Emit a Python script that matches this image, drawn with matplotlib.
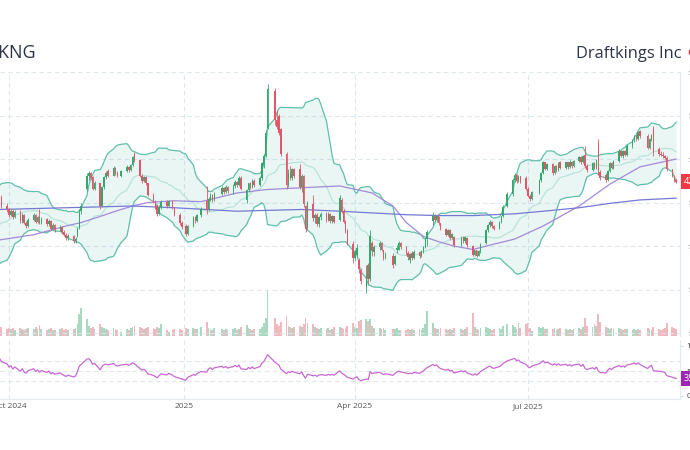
import matplotlib
matplotlib.use("Agg")
import matplotlib.pyplot as plt
import matplotlib.dates as mdates
import numpy as np
import pandas as pd

plt.rcParams['font.family'] = ['Open Sans', 'DejaVu Sans']

ticker = "DKNG"
company = "Draftkings Inc"

holidays = ['2024-09-02', '2024-11-28', '2024-12-25', '2025-01-01', '2025-01-09',
            '2025-01-20', '2025-02-17', '2025-04-18', '2025-05-26', '2025-06-19',
            '2025-07-04', '2025-09-01']

# closes before the visible window (only used to seed the indicators)
warmup_closes = [35.5, 35.6, 35.0, 34.8, 35.0, 34.7, 35.4, 35.8, 36.2, 36.6,
                 37.0, 37.6, 38.1, 38.7, 39.8, 40.2, 40.6, 41.2, 41.0]

opens = [
    41.0, 40.6,
    39.6, 39.2, 38.6, 39.0, 38.3,
    38.9, 37.9, 38.6, 37.6, 37.3,
    38.0, 38.6, 37.8, 38.3, 37.6,
    38.1, 37.5, 37.9, 37.0, 37.4,
    36.8, 37.2, 36.6, 36.3, 35.9,
    36.2, 35.6, 36.2, 37.0, 39.0,
    41.5, 43.1, 43.4, 42.9, 41.6,
    42.2, 39.6, 41.8, 42.9, 43.6,
    43.1, 44.0, 43.4, 43.0,
    43.6, 44.1, 43.7, 44.3, 45.6,
    44.9, 43.1, 42.5, 42.9, 42.2,
    40.9, 40.1, 39.6, 38.7, 39.5,
    40.1, 39.6, 40.2, 39.4,
    38.6, 37.6, 37.3, 36.4,
    37.3, 38.3, 37.9, 38.6,
    40.2, 39.2, 40.4, 40.9, 40.3,
    41.0, 41.7, 41.2, 41.8,
    41.3, 41.9, 42.4, 42.0, 42.8,
    40.3, 41.4, 42.2, 41.8, 42.5,
    42.0, 42.8, 44.3, 45.4, 48.6,
    52.8, 49.5, 49.9, 48.4,
    45.6, 42.0, 43.5, 42.8, 43.8,
    43.9, 41.8, 43.0, 39.6, 37.2,
    39.8, 38.2, 38.6, 37.5, 38.3,
    38.7, 38.0, 38.7, 37.9, 38.4,
    38.0, 40.3, 39.0, 37.8, 36.8,
    35.2, 33.6, 34.0, 33.4, 32.3,
    30.3, 32.8, 31.2, 35.3, 34.3,
    34.9, 35.4, 34.5, 33.6,
    33.9, 32.9, 34.5, 34.6, 35.4,
    34.9, 34.2, 33.4, 34.2, 33.6,
    34.3, 33.8, 34.4, 34.9, 35.8,
    37.9, 38.5, 38.0, 38.4, 37.6,
    37.0, 36.3, 36.8, 35.9, 36.0,
    35.1, 36.0, 35.6, 35.9,
    35.0, 34.0, 34.5, 33.9, 34.4,
    35.3, 36.8, 37.4, 37.8, 37.3,
    37.0, 37.8, 38.4, 39.6,
    41.0, 42.6, 43.2, 42.5, 43.0,
    42.8, 41.6, 40.8, 40.4,
    41.2, 42.6, 43.4, 44.6, 43.9,
    44.4, 43.4, 44.2, 43.7, 44.6,
    44.0, 44.6, 44.1, 44.7, 44.2,
    44.8, 45.2, 44.6, 45.5, 44.2,
    43.7, 44.5, 44.0, 46.6, 43.5,
    43.2, 42.6, 43.6, 44.5, 44.0,
    44.8, 45.9, 45.3, 45.9, 45.5,
    46.5, 47.2, 47.7, 47.3, 48.2,
    47.6, 46.3, 47.3, 48.4,
    46.1, 45.6, 45.5, 45.3, 45.1,
    43.8, 43.0, 42.6,
]

highs = [
    41.3, 40.9,
    39.9, 39.4, 39.3, 39.2, 39.1,
    39.1, 38.8, 38.7, 37.9, 38.2,
    38.8, 38.7, 38.5, 39.3, 38.3,
    38.2, 38.1, 38.0, 37.6, 37.5,
    37.4, 37.3, 36.8, 36.5, 36.4,
    36.3, 36.0, 37.2, 39.2, 40.0,
    43.4, 43.6, 43.5, 43.0, 42.5,
    42.3, 41.9, 43.0, 43.6, 43.8,
    44.2, 44.1, 43.6, 43.7,
    44.3, 44.2, 44.4, 45.4, 45.8,
    45.0, 43.3, 43.1, 43.0, 42.3,
    41.1, 40.3, 39.8, 39.7, 40.3,
    40.3, 40.3, 40.3, 39.5,
    38.8, 37.9, 37.5, 37.4,
    38.5, 38.5, 38.7, 39.5,
    41.9, 40.6, 41.1, 41.0, 41.2,
    41.9, 41.8, 42.0, 41.9,
    42.1, 42.6, 42.5, 43.0, 43.0,
    41.6, 42.3, 42.4, 42.7, 42.7,
    43.0, 44.7, 45.6, 48.3, 53.6,
    53.2, 50.6, 50.2, 48.6,
    45.8, 43.8, 44.2, 44.0, 44.0,
    44.4, 43.3, 43.2, 39.7, 40.2,
    40.9, 38.8, 38.8, 38.4, 38.9,
    38.9, 38.9, 38.8, 38.6, 38.5,
    40.9, 40.5, 39.2, 38.0, 37.0,
    35.6, 34.5, 35.2, 33.6, 32.5,
    32.8, 33.0, 36.8, 35.6, 35.1,
    35.6, 35.5, 34.6, 34.3,
    34.2, 34.0, 35.1, 35.6, 35.5,
    35.0, 34.4, 34.2, 34.4, 34.5,
    34.4, 34.6, 35.0, 35.9, 36.8,
    38.9, 38.7, 38.6, 38.5, 37.7,
    37.1, 37.0, 36.9, 36.5, 36.2,
    36.2, 36.2, 36.1, 36.0,
    35.1, 34.6, 34.6, 34.5, 35.4,
    36.9, 37.5, 38.0, 37.9, 37.4,
    37.9, 38.5, 39.7, 41.2,
    42.8, 43.4, 43.3, 43.2, 43.1,
    43.0, 41.8, 41.0, 41.3,
    42.7, 43.5, 44.8, 44.7, 44.5,
    44.5, 44.3, 44.3, 44.6, 44.8,
    44.7, 44.7, 44.9, 44.8, 44.9,
    45.3, 45.3, 45.5, 46.5, 44.4,
    44.6, 44.6, 45.0, 47.3, 43.7,
    43.4, 43.7, 44.6, 44.6, 44.9,
    46.1, 46.0, 46.0, 46.0, 46.7,
    47.3, 47.8, 47.9, 48.2, 48.3,
    47.9, 47.4, 47.9, 48.8,
    46.4, 45.9, 45.8, 45.5, 45.3,
    43.9, 43.2, 42.8,
]

lows = [
    39.8, 39.4,
    38.9, 38.3, 38.4, 38.1, 38.2,
    37.7, 37.7, 37.5, 37.1, 37.2,
    37.9, 37.6, 37.7, 37.5, 37.5,
    37.3, 37.3, 36.8, 36.9, 36.6,
    36.7, 36.4, 36.1, 35.7, 35.7,
    35.4, 35.3, 36.0, 36.9, 38.7,
    41.3, 42.6, 42.6, 41.4, 41.4,
    39.2, 39.5, 41.6, 42.7, 42.9,
    43.0, 43.2, 42.9, 42.9,
    43.5, 43.5, 43.6, 44.2, 44.7,
    42.9, 42.3, 42.4, 42.0, 40.7,
    39.9, 39.2, 38.5, 38.6, 39.3,
    39.4, 39.5, 39.2, 38.4,
    37.4, 37.0, 36.1, 36.3,
    37.2, 37.7, 37.8, 38.3,
    38.7, 39.0, 40.2, 40.1, 40.2,
    40.9, 41.0, 41.1, 41.1,
    41.0, 41.7, 41.8, 41.9, 41.4,
    40.0, 41.2, 41.6, 41.7, 41.8,
    41.9, 42.6, 44.0, 45.2, 48.4,
    48.9, 48.5, 47.8, 45.3,
    41.6, 41.8, 42.6, 42.6, 42.8,
    41.6, 41.2, 39.5, 36.6, 37.0,
    37.9, 37.6, 37.3, 37.2, 38.0,
    37.8, 37.9, 37.7, 37.7, 37.6,
    37.9, 38.8, 37.6, 36.5, 35.1,
    33.0, 33.3, 33.8, 31.9, 30.6,
    29.6, 30.6, 31.0, 33.9, 33.8,
    34.6, 34.4, 33.4, 33.5,
    32.5, 32.8, 34.2, 34.5, 34.7,
    34.0, 33.4, 33.0, 33.4, 33.5,
    33.6, 33.7, 34.2, 34.8, 35.0,
    37.4, 37.8, 37.8, 37.4, 36.8,
    36.1, 36.2, 35.7, 35.8, 34.9,
    35.0, 35.4, 35.4, 34.9,
    33.8, 33.9, 33.7, 33.8, 34.2,
    35.2, 36.6, 37.2, 37.1, 36.8,
    36.9, 37.6, 38.3, 39.5,
    40.8, 42.4, 42.3, 42.4, 42.2,
    41.4, 40.6, 40.2, 40.3,
    41.0, 42.4, 43.3, 43.7, 43.7,
    43.2, 43.3, 43.5, 43.6, 43.8,
    43.9, 43.9, 44.0, 44.0, 44.1,
    44.6, 44.4, 44.5, 44.0, 43.5,
    43.6, 43.8, 43.9, 43.2, 42.6,
    42.4, 42.5, 43.5, 43.8, 43.9,
    44.7, 45.2, 45.1, 45.3, 45.4,
    46.3, 47.0, 47.1, 47.2, 47.4,
    46.1, 46.2, 47.1, 45.4,
    45.4, 45.3, 45.1, 45.0, 43.6,
    42.9, 42.4, 42.2,
]

closes = [
    40.1, 39.6,
    39.2, 38.6, 39.0, 38.3, 38.9,
    37.9, 38.6, 37.6, 37.3, 38.0,
    38.6, 37.8, 38.3, 37.6, 38.1,
    37.5, 37.9, 37.0, 37.4, 36.8,
    37.2, 36.6, 36.3, 35.9, 36.2,
    35.6, 35.8, 36.9, 38.9, 39.6,
    43.1, 43.4, 42.8, 41.6, 42.3,
    39.6, 41.8, 42.9, 43.4, 43.1,
    44.0, 43.3, 43.0, 43.6,
    44.1, 43.7, 44.3, 45.2, 44.9,
    43.1, 42.5, 42.9, 42.2, 40.9,
    40.1, 39.4, 38.7, 39.5, 40.1,
    39.6, 40.2, 39.4, 38.6,
    37.6, 37.2, 36.4, 37.3,
    38.3, 37.9, 38.6, 39.3,
    39.1, 40.4, 40.9, 40.3, 41.0,
    41.7, 41.2, 41.8, 41.3,
    41.9, 42.4, 42.0, 42.8, 41.6,
    41.4, 42.2, 41.8, 42.5, 42.0,
    42.8, 44.5, 45.4, 48.0, 53.0,
    49.5, 48.7, 48.0, 45.6,
    42.0, 43.5, 42.8, 43.8, 43.0,
    41.8, 43.1, 39.8, 37.0, 39.9,
    38.2, 38.6, 37.5, 38.3, 38.7,
    38.0, 38.7, 37.9, 38.4, 37.8,
    40.5, 39.0, 37.8, 36.8, 35.3,
    33.6, 34.3, 34.8, 32.4, 31.0,
    31.8, 31.2, 36.2, 34.4, 34.9,
    35.4, 34.6, 33.6, 34.1,
    32.8, 33.9, 34.8, 35.4, 34.9,
    34.2, 33.7, 34.1, 33.6, 34.3,
    33.8, 34.4, 34.9, 35.8, 36.6,
    38.5, 38.0, 38.5, 37.6, 37.0,
    36.3, 36.8, 35.9, 36.4, 35.1,
    36.0, 35.6, 36.0, 35.1,
    34.0, 34.5, 33.9, 34.4, 35.2,
    36.8, 37.4, 37.8, 37.3, 37.0,
    37.8, 38.4, 39.5, 41.0,
    42.6, 43.2, 42.5, 43.0, 42.4,
    41.6, 40.8, 40.4, 41.2,
    42.6, 43.4, 44.6, 43.9, 44.4,
    43.4, 44.2, 43.7, 44.5, 44.0,
    44.6, 44.1, 44.7, 44.2, 44.8,
    45.2, 44.6, 45.4, 44.2, 43.7,
    44.5, 44.0, 44.9, 43.5, 42.8,
    42.6, 43.6, 44.5, 44.0, 44.8,
    45.9, 45.4, 45.9, 45.5, 46.5,
    47.2, 47.7, 47.3, 48.1, 47.6,
    46.3, 47.3, 47.8, 45.8,
    45.6, 45.5, 45.3, 45.1, 43.8,
    43.0, 42.6, 42.4,
]

volumes = [  # millions of shares
    8, 9,
    7, 8, 7, 8, 6,
    8, 7, 6, 7, 8,
    7, 9, 7, 11, 7,
    6, 7, 8, 6, 6,
    7, 8, 6, 7, 6,
    7, 8, 12, 22, 28,
    17, 10, 8, 9, 7,
    12, 9, 8, 7, 6,
    8, 7, 6, 4,
    7, 6, 8, 9, 10,
    9, 8, 7, 8, 9,
    8, 7, 9, 8, 12,
    6, 4, 6, 7,
    7, 6, 8, 7,
    8, 7, 7, 9,
    14, 8, 7, 6, 8,
    7, 6, 7, 6,
    7, 8, 6, 7, 9,
    11, 8, 7, 6, 7,
    7, 9, 13, 18, 45,
    18, 12, 10, 14,
    20, 10, 9, 8, 9,
    10, 9, 12, 18, 13,
    12, 9, 8, 7, 8,
    7, 8, 6, 7, 9,
    9, 8, 7, 8, 10,
    13, 9, 8, 15, 16,
    17, 15, 17, 10, 8,
    8, 7, 8, 6,
    7, 7, 8, 6, 6,
    6, 7, 6, 7, 6,
    7, 6, 8, 12, 25,
    13, 8, 7, 7, 8,
    7, 6, 7, 6, 8,
    7, 6, 7, 9,
    23, 9, 7, 6, 8,
    9, 8, 7, 6, 7,
    8, 7, 10, 12,
    11, 9, 7, 13, 8,
    12, 13, 8, 5,
    9, 8, 9, 7, 7,
    7, 8, 6, 7, 8,
    7, 6, 7, 6, 7,
    8, 7, 9, 18, 10,
    9, 12, 10, 22, 14,
    9, 8, 7, 8, 7,
    8, 7, 6, 7, 7,
    6, 7, 6, 7, 6,
    8, 7, 6, 9,
    7, 6, 7, 8, 13,
    9, 8, 7,
]

sma50_dates = ['2024-09-26', '2024-10-14', '2024-10-31', '2024-11-08', '2024-11-18',
               '2024-11-26', '2024-12-05', '2024-12-13', '2024-12-27', '2025-01-10',
               '2025-01-29', '2025-02-14', '2025-03-04', '2025-03-24', '2025-04-10',
               '2025-04-21', '2025-04-28', '2025-05-07', '2025-05-15', '2025-05-23',
               '2025-06-02', '2025-06-11', '2025-06-24', '2025-07-09', '2025-07-28',
               '2025-08-13', '2025-08-29', '2025-09-17']
sma50_values = [35.7, 36.3, 37.3, 37.7, 38.4, 39.0, 39.6, 40.0, 40.2, 40.1,
                41.1, 41.5, 41.7, 41.9, 41.1, 39.6, 37.7, 36.1, 35.5, 35.0,
                34.6, 35.1, 35.8, 37.3, 39.6, 42.1, 44.1, 45.0]

sma200_dates = ['2024-09-26', '2024-10-31', '2024-12-05', '2024-12-27', '2025-01-29',
                '2025-02-14', '2025-03-04', '2025-03-24', '2025-04-28', '2025-05-15',
                '2025-06-02', '2025-06-24', '2025-07-09', '2025-07-28', '2025-08-13',
                '2025-08-29', '2025-09-17']
sma200_values = [39.2, 39.4, 39.6, 39.4, 39.0, 39.1, 39.2, 39.0, 38.6, 38.5,
                 38.5, 38.7, 39.0, 39.4, 39.9, 40.3, 40.5]

price_ticks = [25, 30, 35, 40, 45, 50, 55]
rsi_ticks = [0, 50, 100]
rsi_grid = [30, 50, 70]
x_ticks = ['2024-10-01', '2025-01-01', '2025-04-01', '2025-07-01']
x_labels = ['Oct 2024', '2025', 'Apr 2025', 'Jul 2025']

# ---------------------------------------------------------------- data prep
days = pd.bdate_range('2024-08-29', '2025-09-17')
days = days[~days.isin(pd.to_datetime(holidays))]
nw = len(warmup_closes)
dates = days[nw:]
assert len(dates) == len(closes) == len(opens) == len(highs) == len(lows) == len(volumes)

all_close = pd.Series(warmup_closes + closes)
mid = all_close.rolling(20).mean()
sd = all_close.rolling(20).std(ddof=0)
upper = (mid + 2 * sd).iloc[nw:].values
lower = (mid - 2 * sd).iloc[nw:].values
mid = mid.iloc[nw:].values

delta = all_close.diff()
gain = delta.clip(lower=0)
loss = -delta.clip(upper=0)
ag = gain.ewm(alpha=1 / 14, adjust=False).mean()
al = loss.ewm(alpha=1 / 14, adjust=False).mean()
rsi = (100 - 100 / (1 + ag / al)).iloc[nw:].values

x = mdates.date2num(dates.to_pydatetime())
o = np.array(opens); h = np.array(highs); l = np.array(lows); c = np.array(closes)
up = c >= o

GREEN = '#33a86c'
RED = '#e2566a'
GRID = '#dce7ee'
SPINE = '#e3eaef'

# ---------------------------------------------------------------- figure
W, H = 690, 450
fig = plt.figure(figsize=(W / 100, H / 100), dpi=100)
fig.patch.set_facecolor('white')


def fx(px):
    return px / W


def fy(py):
    return 1 - py / H


ax = fig.add_axes([0, fy(336), fx(680), (336 - 72) / H])
axr = fig.add_axes([0, fy(399), fx(680), (399 - 340) / H], sharex=ax)

xmin = mdates.date2num(pd.Timestamp('2024-09-26 06:30').to_pydatetime())
xmax = mdates.date2num(pd.Timestamp('2025-09-19 00:00').to_pydatetime())

# volume (twin axis in the price panel)
axv = ax.twinx()
vol = np.array(volumes)
axv.bar(x[up], vol[up], width=0.95, color=GREEN, alpha=0.42, linewidth=0)
axv.bar(x[~up], vol[~up], width=0.95, color=RED, alpha=0.42, linewidth=0)
axv.set_ylim(0, 264)
axv.set_yticks([])
for s in axv.spines.values():
    s.set_visible(False)
ax.set_zorder(axv.get_zorder() + 1)
ax.patch.set_visible(False)

# grid
for p in price_ticks:
    ax.axhline(p, color=GRID, lw=0.8, ls=(0, (4, 3)), zorder=0)
for t in x_ticks:
    tx = mdates.date2num(pd.Timestamp(t).to_pydatetime())
    ax.axvline(tx, color=GRID, lw=0.8, ls=(0, (4, 3)), zorder=0)
    axr.axvline(tx, color=GRID, lw=0.8, ls=(0, (4, 3)), zorder=0)

# Bollinger bands
ax.fill_between(x, lower, upper, color='#5fbfaa', alpha=0.13, linewidth=0, zorder=1)
ax.plot(x, upper, color='#5fbfaa', lw=0.9, zorder=2)
ax.plot(x, lower, color='#5fbfaa', lw=0.9, zorder=2)
ax.plot(x, mid, color='#b3e1d6', lw=0.8, zorder=2)

# moving averages
ax.plot(mdates.date2num(pd.to_datetime(sma50_dates).to_pydatetime()), sma50_values,
        color='#a38ad9', lw=0.9, zorder=3)
ax.plot(mdates.date2num(pd.to_datetime(sma200_dates).to_pydatetime()), sma200_values,
        color='#7479d4', lw=0.9, zorder=3)

# candles
cols = np.where(up, GREEN, RED)
ax.vlines(x, l, h, colors=cols, lw=0.6, zorder=4)
body_lo = np.minimum(o, c)
body_h = np.maximum(np.abs(c - o), 0.06)
ax.bar(x, body_h, bottom=body_lo, width=0.8, color=cols, linewidth=0, zorder=5)

ax.set_xlim(xmin, xmax)
ax.set_ylim(24.66, 55)
ax.yaxis.tick_right()
ax.set_yticks(price_ticks)
ax.set_yticklabels(['$%d' % p for p in price_ticks])
ax.tick_params(axis='y', length=0, pad=6, labelsize=6, labelcolor='#444444')
ax.tick_params(axis='x', which='both', length=0, labelbottom=False)
for k, s in ax.spines.items():
    s.set_visible(k == 'right')
ax.spines['right'].set_color(SPINE)

# last price tag
ax.annotate('%.2f' % closes[-1], xy=(1.0, closes[-1]), xycoords=('axes fraction', 'data'),
            xytext=(2.5, 0), textcoords='offset points', va='center', ha='left',
            fontsize=6.5, color='white', annotation_clip=False, zorder=10,
            bbox=dict(boxstyle='square,pad=0.3', fc='#f23a45', ec='none'))

# RSI panel
for g in rsi_grid:
    axr.axhline(g, color=GRID, lw=0.8, ls=(0, (4, 3)), zorder=0)
axr.plot(x, rsi, color='#c768d2', lw=0.9, zorder=3)
axr.set_ylim(-6, 112)
axr.yaxis.tick_right()
axr.set_yticks(rsi_ticks)
axr.set_yticklabels([str(t) for t in rsi_ticks])
axr.tick_params(axis='y', length=2.5, width=0.6, color='#c8d2d8', pad=2, labelsize=6,
                labelcolor='#444444')
axr.set_xticks([mdates.date2num(pd.Timestamp(t).to_pydatetime()) for t in x_ticks])
axr.set_xticklabels(x_labels)
axr.tick_params(axis='x', length=0, pad=3, labelsize=6, labelcolor='#555555')
for k, s in axr.spines.items():
    s.set_visible(k in ('right', 'bottom'))
    s.set_color(SPINE)
axr.set_xlim(xmin, xmax)
axr.annotate('%.2f' % rsi[-1], xy=(1.0, rsi[-1]), xycoords=('axes fraction', 'data'),
             xytext=(2.5, 0), textcoords='offset points', va='center', ha='left',
             fontsize=6.5, color='white', annotation_clip=False, zorder=10,
             bbox=dict(boxstyle='square,pad=0.3', fc='#9c27b0', ec='none'))

# titles
fig.text(fx(-15), fy(58), ticker, fontsize=13, color='#2b3447', ha='left', va='baseline')
fig.text(fx(681), fy(58), company, fontsize=11.8, color='#2b3447', ha='right', va='baseline')
fig.text(fx(687), fy(52), '\u25cf', fontsize=7, color='#e8434f', ha='left', va='center',
         family=['DejaVu Sans'])

fig.savefig('out.png', dpi=100, facecolor='white')
